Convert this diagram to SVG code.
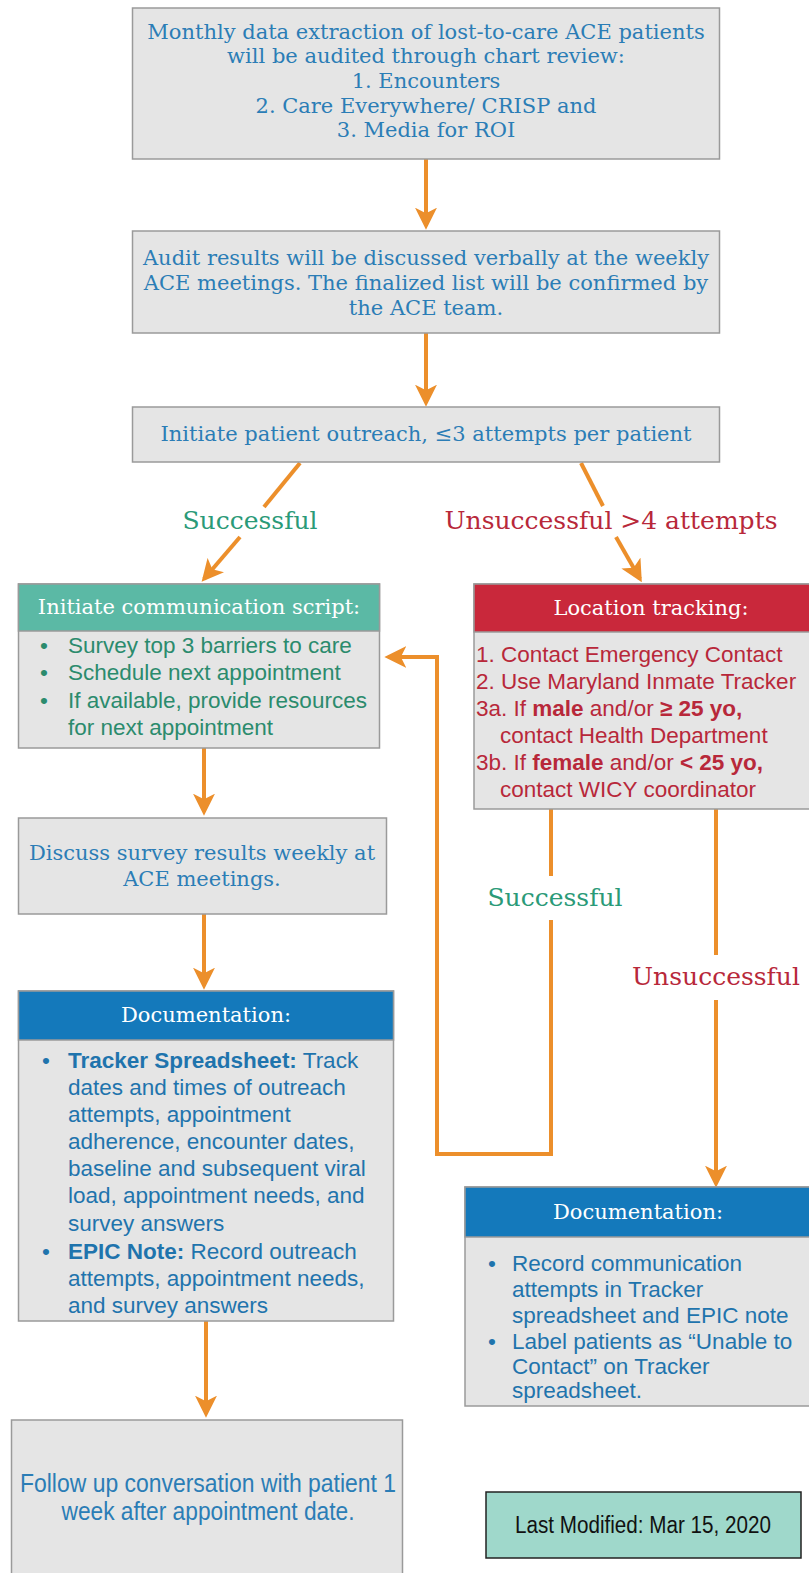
<svg xmlns="http://www.w3.org/2000/svg" width="809" height="1573" viewBox="0 0 809 1573">
<style>
.box{fill:#e5e5e5;stroke:#9a9a9a;stroke-width:1.5}
.ser{font-family:"DejaVu Serif","Liberation Serif",serif;font-size:21px;fill:#2b7db6;text-anchor:middle}
.hdr{font-family:"DejaVu Serif","Liberation Serif",serif;font-size:21px;fill:#ffffff;text-anchor:middle}
.lbl{font-family:"DejaVu Serif","Liberation Serif",serif;font-size:25px;text-anchor:middle}
.san{font-family:"Liberation Sans",Arial,sans-serif;font-size:22.5px}
.nar{font-family:"Liberation Sans",Arial,sans-serif;text-anchor:middle}
.con{fill:none;stroke:#ec8f2b;stroke-width:4}
.g{fill:#2a9a78}
.r{fill:#b8283a}
.tg{fill:#2b8b6d}
.tr{fill:#b8283a}
.tb{fill:#1f74ad}
</style>
<defs>
<marker id="ah" viewBox="0 0 12 12" refX="10" refY="6" markerWidth="5.5" markerHeight="5.5" orient="auto" markerUnits="strokeWidth">
<path d="M0,0 L12,6 L0,12 L3,6 z" fill="#ec8f2b"/>
</marker>
</defs>
<g id="connectors">
<line class="con" x1="426" y1="159" x2="426" y2="226" marker-end="url(#ah)"/>
<line class="con" x1="426" y1="333" x2="426" y2="403" marker-end="url(#ah)"/>
<line class="con" x1="300" y1="463" x2="264" y2="507"/>
<line class="con" x1="240" y1="537" x2="204" y2="579" marker-end="url(#ah)"/>
<line class="con" x1="581" y1="463" x2="603" y2="506"/>
<line class="con" x1="616" y1="537" x2="640" y2="579" marker-end="url(#ah)"/>
<line class="con" x1="204" y1="748" x2="204" y2="812" marker-end="url(#ah)"/>
<line class="con" x1="204" y1="914" x2="204" y2="986" marker-end="url(#ah)"/>
<line class="con" x1="206" y1="1321" x2="206" y2="1414" marker-end="url(#ah)"/>
<polyline class="con" points="551,809 551,876"/>
<polyline class="con" points="551,920 551,1154 437,1154 437,657 388,657" marker-end="url(#ah)"/>
<line class="con" x1="716" y1="809" x2="716" y2="955"/>
<line class="con" x1="716" y1="1000" x2="716" y2="1184" marker-end="url(#ah)"/>
<text class="lbl g" x="250" y="529">Successful</text>
<text class="lbl r" x="611" y="529">Unsuccessful &gt;4 attempts</text>
<text class="lbl g" x="555" y="906">Successful</text>
<text class="lbl r" x="716" y="985">Unsuccessful</text>
</g>
<g id="n1">
<rect class="box" x="132.5" y="8" width="587" height="151"/>
<text class="ser" x="426" y="39">Monthly data extraction of lost-to-care ACE patients</text>
<text class="ser" x="426" y="63">will be audited through chart review:</text>
<text class="ser" x="426" y="88">1. Encounters</text>
<text class="ser" x="426" y="113">2. Care Everywhere/ CRISP and</text>
<text class="ser" x="426" y="137">3. Media for ROI</text>
</g>
<g id="n2">
<rect class="box" x="132.5" y="231" width="587" height="102"/>
<text class="ser" x="426" y="265">Audit results will be discussed verbally at the weekly</text>
<text class="ser" x="426" y="290">ACE meetings. The finalized list will be confirmed by</text>
<text class="ser" x="426" y="315">the ACE team.</text>
</g>
<g id="n3">
<rect class="box" x="132.5" y="407" width="587" height="55"/>
<text class="ser" x="426" y="441">Initiate patient outreach, ≤3 attempts per patient</text>
</g>
<g id="n4">
<rect class="box" x="18.5" y="584" width="361" height="164"/>
<rect x="18.5" y="584" width="361" height="47" fill="#5bb9a5" stroke="#9a9a9a" stroke-width="1.5"/>
<text class="hdr" x="199" y="614">Initiate communication script:</text>
<g class="san tg">
<text x="40" y="653">•</text><text x="68" y="653">Survey top 3 barriers to care</text>
<text x="40" y="680">•</text><text x="68" y="680">Schedule next appointment</text>
<text x="40" y="708">•</text><text x="68" y="708">If available, provide resources</text>
<text x="68" y="735">for next appointment</text>
</g>
</g>
<g id="n5">
<rect class="box" x="474" y="584" width="340" height="225"/>
<rect x="474" y="584" width="340" height="48" fill="#c9283b" stroke="#9a9a9a" stroke-width="1.5"/>
<text class="hdr" x="651" y="615">Location tracking:</text>
<g class="san tr">
<text x="476" y="662">1. Contact Emergency Contact</text>
<text x="476" y="689">2. Use Maryland Inmate Tracker</text>
<text x="476" y="716">3a. If <tspan font-weight="bold">male</tspan> and/or <tspan font-weight="bold">≥ 25 yo,</tspan></text>
<text x="500" y="743">contact Health Department</text>
<text x="476" y="770">3b. If <tspan font-weight="bold">female</tspan> and/or <tspan font-weight="bold">&lt; 25 yo,</tspan></text>
<text x="500" y="797">contact WICY coordinator</text>
</g>
</g>
<g id="n6">
<rect class="box" x="18.5" y="818" width="368" height="96"/>
<text class="ser" x="202" y="860">Discuss survey results weekly at</text>
<text class="ser" x="202" y="886">ACE meetings.</text>
</g>
<g id="n7">
<rect class="box" x="18.5" y="991" width="375" height="330"/>
<rect x="18.5" y="991" width="375" height="49" fill="#1479bb" stroke="#9a9a9a" stroke-width="1.5"/>
<text class="hdr" x="206" y="1022">Documentation:</text>
<g class="san tb">
<text x="42" y="1068">•</text><text x="68" y="1068"><tspan font-weight="bold">Tracker Spreadsheet:</tspan> Track</text>
<text x="68" y="1095">dates and times of outreach</text>
<text x="68" y="1122">attempts, appointment</text>
<text x="68" y="1149">adherence, encounter dates,</text>
<text x="68" y="1176">baseline and subsequent viral</text>
<text x="68" y="1203">load, appointment needs, and</text>
<text x="68" y="1231">survey answers</text>
<text x="42" y="1259">•</text><text x="68" y="1259"><tspan font-weight="bold">EPIC Note:</tspan> Record outreach</text>
<text x="68" y="1286">attempts, appointment needs,</text>
<text x="68" y="1313">and survey answers</text>
</g>
</g>
<g id="n8">
<rect class="box" x="465" y="1187" width="350" height="219"/>
<rect x="465" y="1187" width="350" height="50" fill="#1479bb" stroke="#9a9a9a" stroke-width="1.5"/>
<text class="hdr" x="638" y="1219">Documentation:</text>
<g class="san tb">
<text x="488" y="1271">•</text><text x="512" y="1271">Record communication</text>
<text x="512" y="1297">attempts in Tracker</text>
<text x="512" y="1323">spreadsheet and EPIC note</text>
<text x="488" y="1349">•</text><text x="512" y="1349">Label patients as “Unable to</text>
<text x="512" y="1374">Contact” on Tracker</text>
<text x="512" y="1398">spreadsheet.</text>
</g>
</g>
<g id="n9">
<rect class="box" x="11.5" y="1420" width="391" height="160"/>
<text class="nar" x="208" y="1492" font-size="25" fill="#2b7db6" textLength="376" lengthAdjust="spacingAndGlyphs">Follow up conversation with patient 1</text>
<text class="nar" x="208" y="1520" font-size="25" fill="#2b7db6" textLength="293" lengthAdjust="spacingAndGlyphs">week after appointment date.</text>
</g>
<g id="n10">
<rect x="486" y="1492" width="315" height="66" fill="#9fd8cb" stroke="#222" stroke-width="1.5"/>
<text class="nar" x="643" y="1533" font-size="23" fill="#111" textLength="256" lengthAdjust="spacingAndGlyphs">Last Modified: Mar 15, 2020</text>
</g>
</svg>
